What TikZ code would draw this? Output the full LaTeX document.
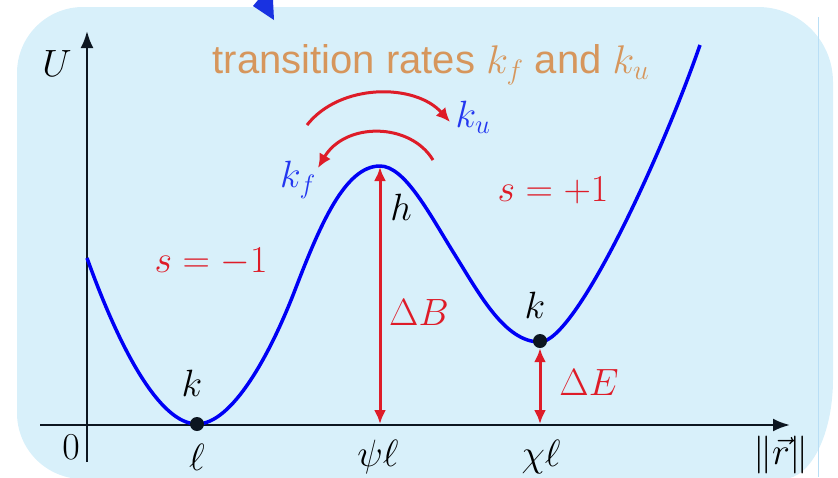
\RequirePackage{fix-cm}
\documentclass[tikz,border=0pt]{standalone}
\usepackage[no-math]{fontspec}
\newfontfamily\titlefont{Liberation Sans}
\usetikzlibrary{arrows.meta}
\definecolor{bgblue}{RGB}{216,240,250}
\definecolor{edgeblue}{RGB}{185,222,245}
\definecolor{axisdark}{RGB}{12,22,32}
\definecolor{curveblue}{RGB}{0,0,245}
\definecolor{labblue}{RGB}{35,55,240}
\definecolor{arrred}{RGB}{222,28,40}
\definecolor{titletan}{RGB}{214,150,92}
\definecolor{topblue}{RGB}{25,50,225}
\tikzset{
  lab/.style={inner sep=0pt, font=\fontsize{38}{44}\selectfont},
  axisline/.style={draw=axisdark, line width=2.5pt},
  redarrow/.style={draw=arrred, line width=3pt},
  dot/.style={circle, fill=axisdark, inner sep=0pt, minimum size=14pt},
}
\begin{document}
\begin{tikzpicture}[x=1pt,y=-1pt]
\useasboundingbox (0,0) rectangle (838,477);
\clip (0,0) rectangle (838,477);
% background panel
\fill[bgblue] (17,73) arc[start angle=180,end angle=270,radius=66] -- (758,7)
  arc[start angle=270,end angle=360,radius=75] -- (833,379)
  arc[start angle=0,end angle=90,x radius=50,y radius=100] -- (83,479)
  arc[start angle=90,end angle=180,radius=66] -- cycle;
\draw[edgeblue, line width=0.8pt] (818,17) -- (818,477);
% fragment of blue arrow at top
\fill[topblue] (258,0) -- (253,6) -- (274,20) -- (273,0) -- cycle;
% axes
\coordinate (xs) at (40,425);
\coordinate (xe) at (790,425);
\coordinate (ys) at (87,462);
\coordinate (ye) at (87,31);
\draw[axisline, -{Latex[length=17pt,width=13pt]}] (xs) -- (xe);
\draw[axisline, -{Latex[length=17pt,width=13pt]}] (ys) -- (ye);
% potential curve
\draw[curveblue, line width=3.5pt, line join=round]
  (87,258) .. controls (120,350) and (160,424) .. (197,424)
  .. controls (232,424) and (270,355) .. (295,290)
  .. controls (320,225) and (345,166) .. (380,166)
  .. controls (405,166) and (430,215) .. (455,255)
  .. controls (480,295) and (505,342) .. (540,342)
  .. controls (575,342) and (660,160) .. (700,45);
% minima dots
\node[dot] (m1) at (197,424) {};
\node[dot] (m2) at (540,341) {};
% barrier arrows
\coordinate (top) at (380,167);
\coordinate (psi) at (380,424);
\coordinate (chi) at (540,424);
\draw[redarrow, {Latex[length=14pt,width=12pt]}-{Latex[length=14pt,width=12pt]}] (top) -- (psi);
\draw[redarrow, {Latex[length=14pt,width=12pt]}-{Latex[length=14pt,width=12pt]}] (m2.south) -- (chi);
% curved rate arrows
\coordinate (ua) at (307,125);
\coordinate (ub) at (450,122);
\coordinate (la) at (433,160);
\coordinate (lb) at (318,168);
\draw[redarrow, -{Latex[length=14pt,width=13pt]}] (ua) .. controls (340,83) and (415,83) .. (ub);
\draw[redarrow, -{Latex[length=14pt,width=13pt]}] (la) .. controls (410,122) and (345,122) .. (lb);
% labels
\node[anchor=base, text=titletan, inner sep=0pt, font=\titlefont\fontsize{40}{46}\selectfont] (title) at (431,73) {transition rates $k_f$ and $k_u$};
\node[lab] (U) at (57,64) {$U$};
\node[lab] (zero) at (71,447) {$0$};
\node[lab] (ell) at (197,457) {$\ell$};
\node[lab] (psil) at (378,457) {$\psi\ell$};
\node[lab] (chil) at (541,457) {$\chi\ell$};
\node[lab] (rnorm) at (781,455) {$\|\vec r\|$};
\node[lab] (k1) at (192,383) {$k$};
\node[lab] (k2) at (535,305) {$k$};
\node[lab] (h) at (401,207) {$h$};
\node[lab, text=arrred] (dB) at (419,313) {$\Delta B$};
\node[lab, text=arrred] (dE) at (589,383) {$\Delta E$};
\node[lab, text=arrred] (sm) at (211,262) {$s=-1$};
\node[lab, text=arrred] (sp) at (553,190) {$s=+1$};
\node[lab, text=labblue] (kf) at (298,180) {$k_f$};
\node[lab, text=labblue] (ku) at (473,117) {$k_u$};
\end{tikzpicture}
\end{document}
